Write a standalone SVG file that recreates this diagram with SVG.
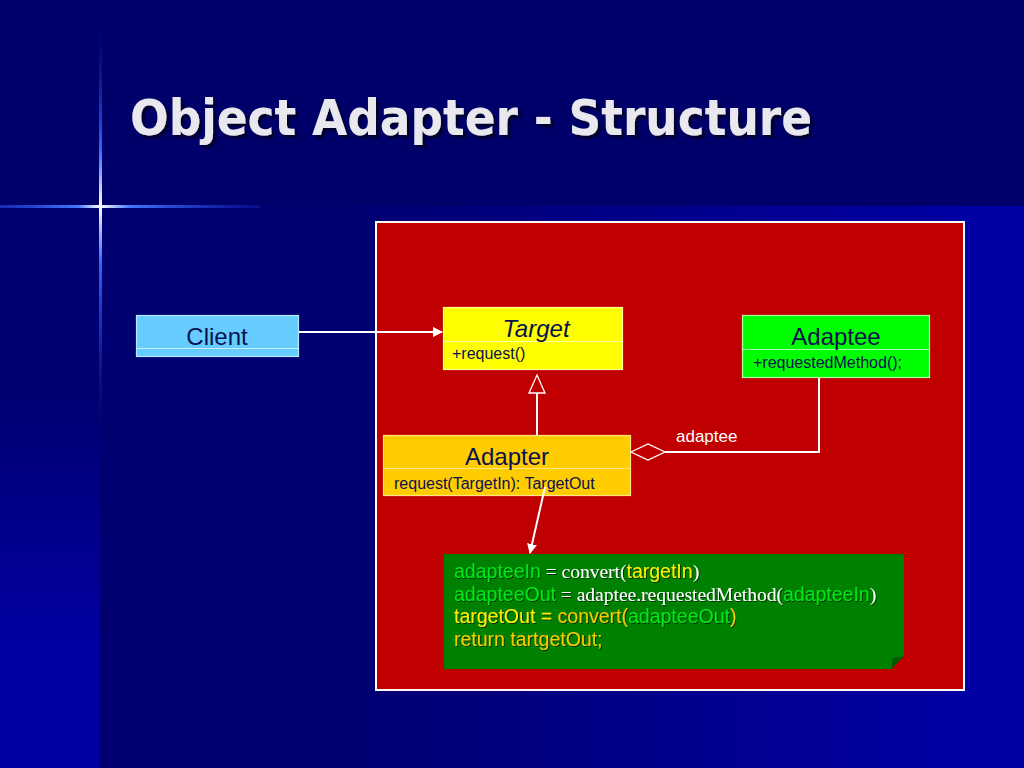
<svg xmlns="http://www.w3.org/2000/svg" width="1024" height="768" viewBox="0 0 1024 768">
<defs>
  <linearGradient id="bgLow" gradientUnits="userSpaceOnUse" x1="330" y1="0" x2="960" y2="0">
    <stop offset="0" stop-color="#000070"/>
    <stop offset="1" stop-color="#0000a2"/>
  </linearGradient>
  <linearGradient id="bgStrip" gradientUnits="userSpaceOnUse" x1="0" y1="380" x2="0" y2="640">
    <stop offset="0" stop-color="#000070"/>
    <stop offset="1" stop-color="#0000a0"/>
  </linearGradient>
  <linearGradient id="hGlow" gradientUnits="userSpaceOnUse" x1="0" y1="0" x2="260" y2="0">
    <stop offset="0" stop-color="#2244dd" stop-opacity="0.6"/>
    <stop offset="0.3" stop-color="#4477ff"/>
    <stop offset="0.385" stop-color="#ffffff"/>
    <stop offset="0.5" stop-color="#4477ff"/>
    <stop offset="1" stop-color="#1a2bcc" stop-opacity="0.3"/>
  </linearGradient>
  <linearGradient id="vGlow" gradientUnits="userSpaceOnUse" x1="0" y1="30" x2="0" y2="430">
    <stop offset="0" stop-color="#1122aa" stop-opacity="0"/>
    <stop offset="0.3" stop-color="#3366ff"/>
    <stop offset="0.44" stop-color="#ffffff"/>
    <stop offset="0.58" stop-color="#3366ff"/>
    <stop offset="1" stop-color="#1122aa" stop-opacity="0"/>
  </linearGradient>
  <filter id="shadow" x="-10%" y="-20%" width="120%" height="150%">
    <feDropShadow dx="3" dy="3" stdDeviation="1" flood-color="#000022" flood-opacity="0.9"/>
  </filter>
  <filter id="tshadow" x="-10%" y="-20%" width="120%" height="150%">
    <feDropShadow dx="1" dy="1" stdDeviation="0.4" flood-color="#002200" flood-opacity="0.8"/>
  </filter>
  <marker id="arrow" viewBox="0 0 10 10" refX="9" refY="5" markerWidth="10" markerHeight="10" markerUnits="userSpaceOnUse" orient="auto">
    <path d="M0,0 L10,5 L0,10 Z" fill="#ffffff"/>
  </marker>
  <style>
    .box { stroke-width: 1.2; }
    .name { font-family: "Liberation Sans", Arial, sans-serif; font-size: 24px; fill: #0a1050; text-anchor: middle; }
    .attr { font-family: "Liberation Sans", Arial, sans-serif; font-size: 16px; fill: #0a1050; }
    .conn { stroke: #ffffff; stroke-width: 2; fill: none; }
    .note { font-size: 19.5px; }
    .s { font-family: "Liberation Sans", Arial, sans-serif; }
    .r { font-family: "Liberation Serif", "Times New Roman", serif; fill: #ffffff; }
    .g { fill: #00e61a; }
    .y { fill: #ffee00; }
    .o { fill: #f2cc00; }
  </style>
</defs>

<!-- background -->
<rect x="0" y="0" width="1024" height="768" fill="#00006a"/>
<rect x="100" y="206" width="924" height="562" fill="url(#bgLow)"/>
<rect x="0" y="206" width="100" height="562" fill="url(#bgStrip)"/>
<rect x="0" y="205" width="260" height="3" fill="url(#hGlow)"/>
<rect x="99" y="30" width="3" height="400" fill="url(#vGlow)"/>

<text x="130" y="135" font-family="'DejaVu Sans', Verdana, sans-serif" font-weight="bold" font-size="50" fill="#e8e8ee" textLength="682" lengthAdjust="spacingAndGlyphs" filter="url(#shadow)">Object Adapter - Structure</text>

<!-- red panel -->
<rect x="376" y="222" width="588" height="468" fill="#c00000" stroke="#ffffff" stroke-width="2"/>

<g id="client">
  <rect class="box" x="136.5" y="315.5" width="162" height="41" fill="#66ccff" stroke="#b8e8ff"/>
  <line x1="137" y1="348.5" x2="298" y2="348.5" stroke="#c8f0ff" stroke-width="1.2"/>
  <text class="name" x="217" y="345" font-size="23">Client</text>
</g>

<g id="target">
  <rect class="box" x="443.5" y="307.5" width="179" height="62" fill="#ffff00" stroke="#ffff99"/>
  <line x1="444" y1="341.5" x2="622" y2="341.5" stroke="#ffffaa" stroke-width="1.2"/>
  <text class="name" x="536" y="337" font-style="italic">Target</text>
  <text class="attr" x="452" y="359">+request()</text>
</g>

<g id="adaptee">
  <rect class="box" x="742.5" y="315.5" width="187" height="62" fill="#00ff00" stroke="#aaffaa"/>
  <line x1="743" y1="349.5" x2="929" y2="349.5" stroke="#aaffaa" stroke-width="1.2"/>
  <text class="name" x="836" y="345">Adaptee</text>
  <text class="attr" x="753" y="368">+requestedMethod();</text>
</g>

<g id="adapter">
  <rect class="box" x="383.5" y="435.5" width="247" height="60" fill="#ffcc00" stroke="#ffe680"/>
  <line x1="384" y1="468.5" x2="630" y2="468.5" stroke="#ffe680" stroke-width="1.2"/>
  <text class="name" x="507" y="465">Adapter</text>
  <text class="attr" x="394" y="489">request(TargetIn): TargetOut</text>
</g>

<g id="note">
  <path d="M444,554 L904,554 L904,656 L891,669 L444,669 Z" fill="#008000"/>
  <path d="M904,656 L891,669 L893,658 Z" fill="#005a00"/>
  <g class="note" filter="url(#tshadow)">
    <text x="454" y="578"><tspan class="s g">adapteeIn</tspan><tspan class="r"> = convert(</tspan><tspan class="s y">targetIn</tspan><tspan class="r">)</tspan></text>
    <text x="454" y="601"><tspan class="s g">adapteeOut</tspan><tspan class="r"> = adaptee.requestedMethod(</tspan><tspan class="s g">adapteeIn</tspan><tspan class="r">)</tspan></text>
    <text x="454" y="623" class="s"><tspan class="y">targetOut = </tspan><tspan class="o">convert(</tspan><tspan class="g">adapteeOut</tspan><tspan class="o">)</tspan></text>
    <text x="454" y="646" class="s o">return tartgetOut;</text>
  </g>
</g>

<g id="connectors">
  <line class="conn" x1="299" y1="332" x2="442" y2="332" marker-end="url(#arrow)"/>
  <line class="conn" x1="537" y1="435" x2="537" y2="393" stroke-width="1.3"/>
  <path d="M537,375 L545,393 L529,393 Z" fill="none" stroke="#ffffff" stroke-width="1.3"/>
  <path d="M631,452 L648,444 L665,452 L648,460 Z" fill="none" stroke="#ffffff" stroke-width="1.3"/>
  <polyline class="conn" points="665,452 819,452 819,378" stroke-width="1.5"/>
  <text x="676" y="442" font-family="'Liberation Sans', Arial, sans-serif" font-size="17" fill="#ffffff">adaptee</text>
  <line class="conn" x1="545" y1="487" x2="530" y2="553" marker-end="url(#arrow)"/>
</g>
</svg>
